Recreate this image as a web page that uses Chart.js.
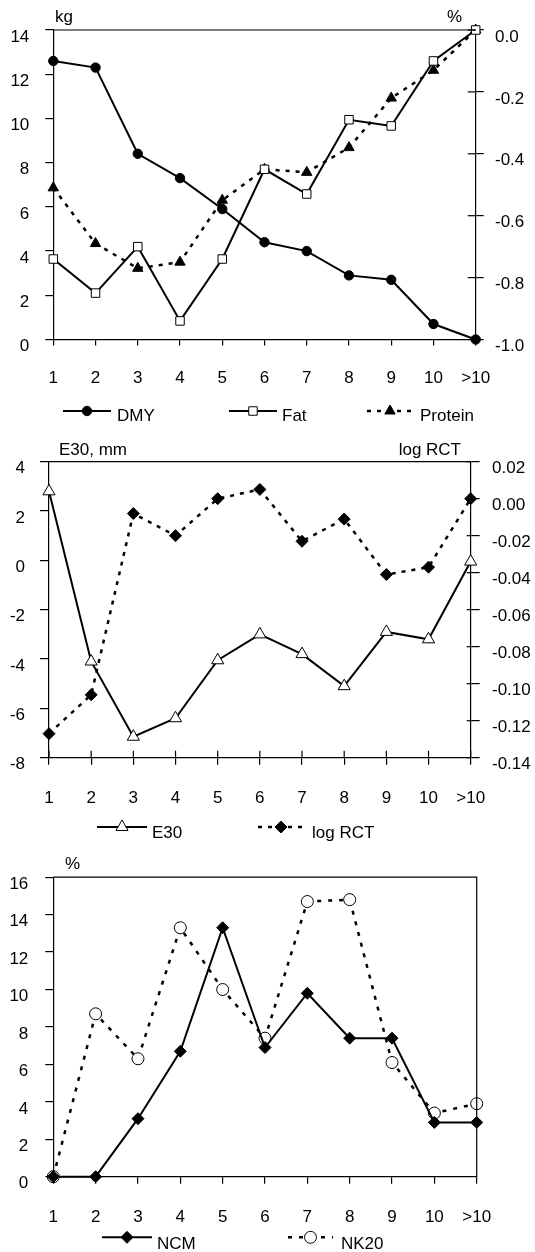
<!DOCTYPE html>
<html>
<head>
<meta charset="utf-8">
<script src="https://cdn.jsdelivr.net/npm/chart.js@4.4.1/dist/chart.umd.min.js"></script>
<style>
  html, body { margin: 0; padding: 0; background: #fff; }
  #wrap { position: relative; width: 535px; height: 1252px; overflow: hidden; }
  canvas { position: absolute; left: 0; }
</style>
</head>
<body>
<div id="wrap">
  <canvas id="c1" width="535" height="440" style="top:0px"></canvas>
  <canvas id="c2" width="535" height="420" style="top:430px"></canvas>
  <canvas id="c3" width="535" height="402" style="top:850px"></canvas>
</div>
<script>
// lactation groups on the x axis
const groups = ['1', '2', '3', '4', '5', '6', '7', '8', '9', '10', '>10'];

// panel 1: DMY in kg (left), Fat and Protein in % (right)
const dmy = [12.6, 12.3, 8.4, 7.3, 5.9, 4.4, 4.0, 2.9, 2.7, 0.7, 0];
const fat = [-0.74, -0.85, -0.70, -0.94, -0.74, -0.45, -0.53, -0.29, -0.31, -0.10, 0];
const protein = [-0.51, -0.69, -0.77, -0.75, -0.55, -0.45, -0.46, -0.38, -0.22, -0.13, 0];

// panel 2: E30 in mm (left), log RCT (right)
const e30 = [2.8, -4.1, -7.15, -6.4, -4.05, -3.0, -3.8, -5.1, -2.9, -3.2, -0.05];
const logRct = [-0.127, -0.106, -0.008, -0.020, 0.000, 0.005, -0.023, -0.011, -0.041, -0.037, 0.000];

// panel 3: NCM and NK20 in %
const ncm = [0, 0, 3.1, 6.7, 13.3, 6.9, 9.8, 7.4, 7.4, 2.9, 2.9];
const nk20 = [0, 8.7, 6.3, 13.3, 10.0, 7.4, 14.7, 14.8, 6.1, 3.4, 3.9];

// axis ranges [min, max, step]
const kgAxis = [0, 14, 2];
const pctAxis = [-1, 0, 0.2];
const e30Axis = [-8, 4, 2];
const rctAxis = [-0.14, 0.02, 0.02];
const pct3Axis = [0, 16, 2];

const FONT = '"Liberation Sans", Arial, sans-serif';
Chart.defaults.font = { family: FONT, size: 17 };
Chart.defaults.color = '#000';

const fixW = w => s => { s.width = w; };
const fixH = h => s => { s.height = h; };
const fmt = d => v => (Math.abs(v) < 1e-9 ? 0 : v).toFixed(d);

// frame line on top, inner half of crossing ticks, axis titles, legend row
const decor = {
  id: 'decor',
  afterDraw(chart, args, o) {
    const ctx = chart.ctx, a = chart.chartArea;
    ctx.save();
    ctx.strokeStyle = '#000';
    ctx.lineWidth = 1.2;
    ctx.beginPath();
    ctx.moveTo(a.left, a.top);
    ctx.lineTo(a.right, a.top);
    if (o.rightLine) ctx.lineTo(a.right, a.bottom);
    ctx.stroke();

    (o.inner || []).forEach(([id, len]) => {
      const s = chart.scales[id];
      s.ticks.forEach((t, i) => {
        const p = s.getPixelForTick(i);
        ctx.beginPath();
        if (s.isHorizontal()) { ctx.moveTo(p, s.top); ctx.lineTo(p, s.top - len); }
        else if (s.position === 'right') { ctx.moveTo(s.left, p); ctx.lineTo(s.left - len, p); }
        else { ctx.moveTo(s.right, p); ctx.lineTo(s.right + len, p); }
        ctx.stroke();
      });
    });

    ctx.fillStyle = '#000';
    ctx.font = '17px ' + FONT;
    ctx.textBaseline = 'alphabetic';
    (o.titles || []).forEach(t => {
      ctx.textAlign = t.align || 'left';
      ctx.fillText(t.text, t.x, t.y);
    });

    (o.legend || []).forEach((it, i) => {
      const ds = chart.data.datasets[i];
      ctx.save();
      ctx.strokeStyle = '#000';
      ctx.lineWidth = ds.borderWidth;
      ctx.setLineDash(ds.borderDash || []);
      ctx.beginPath();
      ctx.moveTo(it[0], o.lineY);
      ctx.lineTo(it[1], o.lineY);
      ctx.stroke();
      ctx.setLineDash([]);
      ctx.lineWidth = ds.pointBorderWidth;
      ctx.fillStyle = ds.pointBackgroundColor;
      Chart.helpers.drawPoint(ctx, {
        pointStyle: ds.pointStyle, radius: ds.pointRadius, rotation: 0, borderWidth: ds.pointBorderWidth
      }, (it[0] + it[1]) / 2, o.lineY);
      ctx.fillStyle = '#000';
      ctx.textAlign = 'left';
      ctx.fillText(ds.label, it[2], o.textY);
      ctx.restore();
    });
    ctx.restore();
  }
};

function series(label, data, axis, style, radius, fill, dash) {
  return {
    label: label, data: data, yAxisID: axis,
    borderColor: '#000', borderWidth: dash ? 2.5 : 2, borderDash: dash || [],
    pointStyle: style, pointRadius: radius, pointHoverRadius: radius,
    pointBackgroundColor: fill, pointBorderColor: '#000', pointBorderWidth: 1,
    tension: 0, clip: false
  };
}

function xScale(tick, pad, h) {
  return {
    type: 'category', offset: false, afterFit: fixH(h),
    grid: { drawOnChartArea: false, drawTicks: true, tickLength: tick, color: '#000', lineWidth: 1.2 },
    border: { display: true, color: '#000', width: 1.2 },
    ticks: { padding: pad, maxRotation: 0, autoSkip: false }
  };
}

function yScale(pos, range, width, tick, pad, digits) {
  const s = {
    type: 'linear', position: pos, min: range[0], max: range[1], afterFit: fixW(width),
    grid: { drawOnChartArea: false, drawTicks: true, tickLength: tick, color: '#000', lineWidth: 1.2 },
    border: { display: true, color: '#000', width: 1.2 },
    ticks: { stepSize: range[2], padding: pad, labelOffset: 7 }
  };
  if (digits !== undefined) s.ticks.callback = fmt(digits);
  return s;
}

const baseOpts = {
  responsive: false, animation: false, events: [],
  plugins: { legend: { display: false }, tooltip: { enabled: false } }
};

new Chart(document.getElementById('c1'), {
  type: 'line',
  data: {
    labels: groups,
    datasets: [
      series('DMY', dmy, 'y', 'circle', 4.7, '#000'),
      series('Fat', fat, 'y1', 'rect', 6, '#fff'),
      series('Protein', protein, 'y1', 'triangle', 6, '#000', [4, 6])
    ]
  },
  options: Object.assign({}, baseOpts, {
    layout: { padding: { left: 0, right: 0, top: 30, bottom: 45.5 } },
    scales: {
      x: xScale(6, 23, 55),
      y: yScale('left', kgAxis, 53.3, 8, 16),
      y1: yScale('right', pctAxis, 59.3, 8, 11.3, 1)
    },
    plugins: Object.assign({}, baseOpts.plugins, {
      decor: {
        inner: [['y1', 8]],
        titles: [{ text: 'kg', x: 55, y: 21.7 }, { text: '%', x: 447, y: 21.7 }],
        lineY: 411, textY: 420.7,
        legend: [[63, 111, 117], [229, 277, 282], [367, 413, 420]]
      }
    })
  }),
  plugins: [decor]
});

new Chart(document.getElementById('c2'), {
  type: 'line',
  data: {
    labels: groups,
    datasets: [
      series('E30', e30, 'y', 'triangle', 7, '#fff'),
      series('log RCT', logRct, 'y1', 'rectRot', 6, '#000', [4, 6])
    ]
  },
  options: Object.assign({}, baseOpts, {
    layout: { padding: { left: 0, right: 0, top: 31.7, bottom: 37.3 } },
    scales: {
      x: xScale(7, 23, 55),
      y: yScale('left', e30Axis, 49, 9, 15),
      y1: yScale('right', rctAxis, 64.3, 9, 12.3, 2)
    },
    plugins: Object.assign({}, baseOpts.plugins, {
      decor: {
        inner: [['y1', 4], ['x', 7]],
        titles: [{ text: 'E30, mm', x: 59, y: 25 }, { text: 'log RCT', x: 461, y: 25, align: 'right' }],
        lineY: 397, textY: 408.3,
        legend: [[97, 147, 152], [258, 304, 312]]
      }
    })
  }),
  plugins: [decor]
});

new Chart(document.getElementById('c3'), {
  type: 'line',
  data: {
    labels: groups,
    datasets: [
      series('NCM', ncm, 'y', 'rectRot', 6, '#000'),
      series('NK20', nk20, 'y', 'circle', 6, '#fff', [4, 7])
    ]
  },
  options: Object.assign({}, baseOpts, {
    layout: { padding: { left: 0, right: 58.3, top: 21, bottom: 20.3 } },
    scales: {
      x: xScale(7, 23, 55),
      y: yScale('left', pct3Axis, 53.3, 8, 17)
    },
    plugins: Object.assign({}, baseOpts.plugins, {
      decor: {
        rightLine: true,
        titles: [{ text: '%', x: 65, y: 19 }],
        lineY: 387.3, textY: 399.3,
        legend: [[102, 152, 157], [288, 333, 341]]
      }
    })
  }),
  plugins: [decor]
});
</script>
</body>
</html>
